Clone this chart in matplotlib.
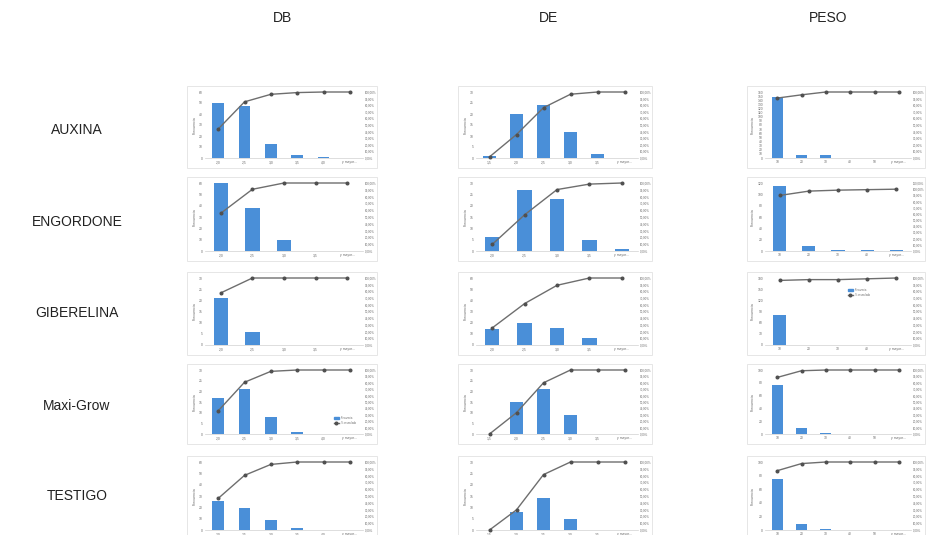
import matplotlib
matplotlib.use("Agg")
import matplotlib.pyplot as plt
from matplotlib.patches import Rectangle
from matplotlib.ticker import FixedLocator, FuncFormatter
import numpy as np

plt.rcParams['font.family'] = ['Liberation Sans', 'DejaVu Sans']

# Column and row titles
columns = ["DB", "DE", "PESO"]
treatments = ["AUXINA", "ENGORDONE", "GIBERELINA", "Maxi-Grow", "TESTIGO"]

# Bin labels (class upper limits, last class open)
bins_db6 = ["2,0", "2,5", "3,0", "3,5", "4,0", "y mayor..."]
bins_db5 = ["2,0", "2,5", "3,0", "3,5", "y mayor..."]
bins_de6 = ["1,5", "2,0", "2,5", "3,0", "3,5", "y mayor..."]
bins_de5 = ["2,0", "2,5", "3,0", "3,5", "y mayor..."]
bins_peso6 = ["10", "20", "30", "40", "50", "y mayor..."]
bins_peso5 = ["10", "20", "30", "40", "y mayor..."]

# Frequencies per class
auxina_db = [50, 47, 13, 3, 1, 0]
auxina_de = [1, 20, 24, 12, 2, 0]
auxina_peso = [148, 8, 7, 0, 0, 0]
engordone_db = [60, 38, 10, 0, 0]
engordone_de = [6, 27, 23, 5, 1]
engordone_peso = [115, 9, 2, 1, 1]
giberelina_db = [21, 6, 0, 0, 0]
giberelina_de = [14, 20, 15, 6, 0]
giberelina_peso = [80, 1, 0, 1, 1]
maxigrow_db = [17, 21, 8, 1, 0, 0]
maxigrow_de = [0, 15, 21, 9, 0, 0]
maxigrow_peso = [76, 9, 1, 0, 0, 0]
testigo_db = [26, 19, 9, 2, 0, 0]
testigo_de = [0, 8, 14, 5, 0, 0]
testigo_peso = [75, 9, 2, 0, 0, 0]

# Left (frequency) axis limits and steps
freq_max = [[60, 30, 160], [60, 30, 120], [30, 60, 180], [30, 30, 100], [60, 30, 100]]
freq_step = [[10, 5, 10], [10, 5, 20], [5, 10, 30], [5, 5, 20], [10, 5, 20]]
# Right (cumulative %) axis top
pct_max = [[1.0, 1.0, 1.0], [1.0, 1.0, 1.1], [1.0, 1.0, 1.0], [1.0, 1.0, 1.0], [1.0, 1.0, 1.0]]

grid = [
    [(auxina_db, bins_db6), (auxina_de, bins_de6), (auxina_peso, bins_peso6)],
    [(engordone_db, bins_db5), (engordone_de, bins_de5), (engordone_peso, bins_peso5)],
    [(giberelina_db, bins_db5), (giberelina_de, bins_de5), (giberelina_peso, bins_peso5)],
    [(maxigrow_db, bins_db6), (maxigrow_de, bins_de6), (maxigrow_peso, bins_peso6)],
    [(testigo_db, bins_db6), (testigo_de, bins_de6), (testigo_peso, bins_peso6)],
]
legend_panels = {(3, 0): (0.80, 0.10), (2, 2): (0.55, 0.68)}

W, H = 933, 535
fig = plt.figure(figsize=(W / 100, H / 100), dpi=100)
fig.patch.set_facecolor("white")

col_x = [(205, 363), (476, 638), (765, 911)]
row_y = [(92, 158), (183, 251), (278, 345), (370, 434), (462, 530)]
col_title_x = [282, 548, 828]
row_label_y = [130, 222, 313, 406, 496]

BAR = "#4a8fd8"
LINE = "#6e6e6e"
TXT = "#6a6a6a"

for c, name in enumerate(columns):
    fig.text(col_title_x[c] / W, 1 - 18 / H, name, ha="center", va="center",
             fontsize=10, color="#222222")
for r, name in enumerate(treatments):
    fig.text(77 / W, 1 - row_label_y[r] / H, name, ha="center", va="center",
             fontsize=10, color="#222222")

for r in range(5):
    for c in range(3):
        freqs, labels = grid[r][c]
        x0, x1 = col_x[c]
        y0, y1 = row_y[r]
        # chart area frame
        fig.patches.append(Rectangle(((x0 - 18) / W, 1 - (y1 + 10) / H),
                                     (x1 - x0 + 32) / W, (y1 - y0 + 16) / H,
                                     transform=fig.transFigure, fill=False,
                                     edgecolor="#e2e2e2", lw=0.6))
        ax = fig.add_axes([x0 / W, 1 - y1 / H, (x1 - x0) / W, (y1 - y0) / H])
        n = len(freqs)
        xs = np.arange(n)
        ax.bar(xs, freqs, width=0.45, color=BAR, zorder=2)
        ax.set_xlim(-0.5, n - 0.5)
        ax.set_ylim(0, freq_max[r][c])
        ax.yaxis.set_major_locator(FixedLocator(np.arange(0, freq_max[r][c] + 0.1, freq_step[r][c])))
        ax.set_xticks(xs)
        ax.set_xticklabels(labels)
        ax.tick_params(axis="both", length=0, labelsize=2.4, labelcolor=TXT, pad=1.5)
        ax.set_ylabel("Frecuencia", fontsize=2.6, color=TXT, labelpad=2)
        for s in ["top", "right", "left"]:
            ax.spines[s].set_visible(False)
        ax.spines["bottom"].set_color("#d0d0d0")
        ax.spines["bottom"].set_linewidth(0.5)

        cum = np.cumsum(freqs) / np.sum(freqs)
        ax2 = ax.twinx()
        ax2.plot(xs, cum, color=LINE, lw=1.0, marker="o", ms=1.9,
                 mfc="#505050", mec="#505050", clip_on=False, zorder=3,
                 label="% acumulado")
        ax2.set_ylim(0, pct_max[r][c])
        ax2.yaxis.set_major_locator(FixedLocator(np.arange(0, pct_max[r][c] + 0.001, 0.1)))
        ax2.yaxis.set_major_formatter(FuncFormatter(lambda v, p: f"{v * 100:.2f}%".replace(".", ",")))
        ax2.tick_params(axis="y", length=0, labelsize=2.1, labelcolor=TXT, pad=1.2)
        for s in ax2.spines.values():
            s.set_visible(False)

        if (r, c) in legend_panels:
            lx, ly = legend_panels[(r, c)]
            h1 = Rectangle((0, 0), 1, 1, color=BAR)
            h2 = ax2.get_lines()[0]
            ax2.legend([h1, h2], ["Frecuencia", "% acumulado"], fontsize=1.8,
                       loc="lower left", bbox_to_anchor=(lx, ly), frameon=False,
                       handlelength=2, labelcolor=TXT)

fig.savefig("out.png", dpi=100, facecolor="white")
